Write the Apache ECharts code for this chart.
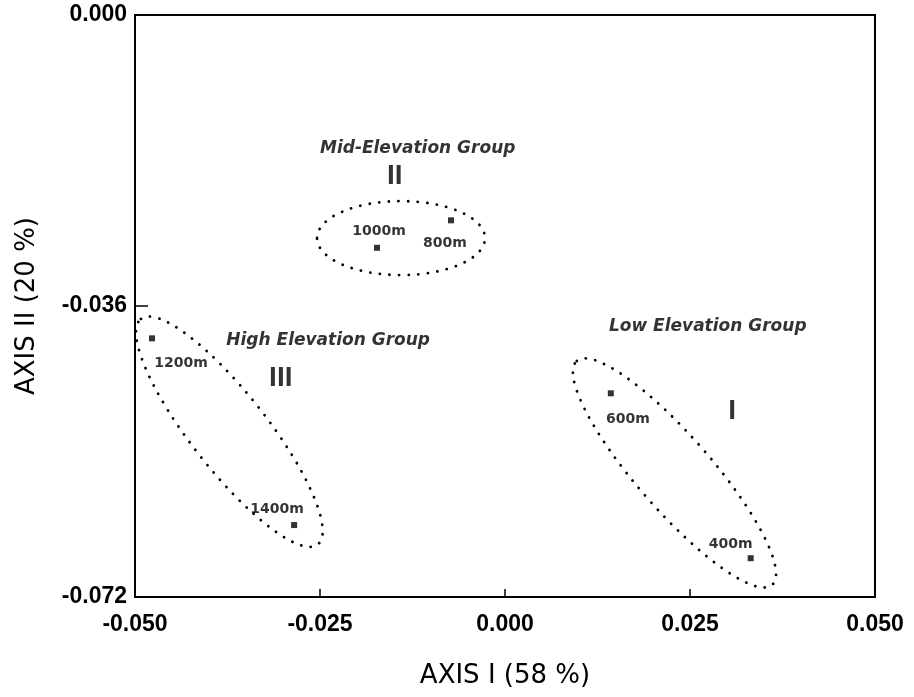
<!DOCTYPE html>
<html>
<head>
<meta charset="utf-8">
<script src="https://cdn.jsdelivr.net/npm/echarts@6/dist/echarts.min.js"></script>
<style>
  html, body { margin: 0; padding: 0; background: #fff; }
  #main { width: 914px; height: 697px; }
</style>
</head>
<body>
<div id="main"></div>
<script>
// sites (elevation) and their ordination scores
var sites = ["1200m", "1400m", "1000m", "800m", "600m", "400m"];
var axisI = [-0.0477, -0.0285, -0.0173, -0.0073, 0.0143, 0.0332];
var axisII = [-0.0400, -0.0631, -0.0288, -0.0254, -0.0468, -0.0672];

// group names and where they sit
var groupNames = ["High Elevation Group", "Mid-Elevation Group", "Low Elevation Group"];
var groupX = [-0.0239, -0.0118, 0.0274];
var groupY = [-0.0403, -0.0165, -0.0385];
var numerals = ["III", "II", "I"];
var numeralX = [-0.0303, -0.0149, 0.0307];
var numeralY = [-0.0449, -0.0200, -0.0490];

// ellipse major axis end points (axis I, axis II)
var ellipseStartX = [-0.0492, -0.0254, 0.0097];
var ellipseStartY = [-0.0376, -0.0276, -0.0428];
var ellipseEndX = [-0.0253, -0.0027, 0.0361];
var ellipseEndY = [-0.0655, -0.0276, -0.0705];

var xTicks = [-0.05, -0.025, 0, 0.025, 0.05];
var yTicks = [-0.072, -0.036, 0];

// layout only (pixels)
var ellipseMinor = [38, 37, 37];
var labelOffsets = [[29, 25], [-17, -16], [2, -16], [-6, 23], [17, 26], [-20, -14]];

var font = "DejaVu Sans";
var tickFont = "Liberation Sans";

var pointData = sites.map(function (s, i) {
  return {
    name: s,
    value: [axisI[i], axisII[i]],
    label: { offset: labelOffsets[i] }
  };
});
var groupData = groupNames.map(function (g, i) {
  return { name: g, value: [groupX[i], groupY[i]] };
});
var numeralData = numerals.map(function (n, i) {
  return { name: n, value: [numeralX[i], numeralY[i]] };
});
var ellipseData = ellipseStartX.map(function (x, i) {
  return [x, ellipseStartY[i], ellipseEndX[i], ellipseEndY[i], ellipseMinor[i]];
});

var myChart = echarts.init(document.getElementById("main"));
var option = {
  animation: false,
  grid: {
    left: 135,
    right: 39,
    top: 15,
    bottom: 100,
    outerBoundsMode: "none",
    containLabel: false,
    show: true,
    borderColor: "#000",
    borderWidth: 2,
    backgroundColor: "transparent"
  },
  xAxis: {
    type: "value",
    min: xTicks[0],
    max: xTicks[xTicks.length - 1],
    interval: 0.025,
    name: "AXIS I (58 %)",
    nameLocation: "middle",
    nameGap: 66,
    nameTextStyle: { fontFamily: font, fontSize: 26, color: "#000" },
    axisLine: { onZero: false, lineStyle: { color: "#000", width: 2 } },
    axisTick: { inside: true, length: 8, lineStyle: { color: "#000", width: 1.5 } },
    axisLabel: {
      margin: 16,
      color: "#000",
      fontFamily: tickFont,
      fontSize: 23,
      fontWeight: "bold",
      formatter: function (v) { return v.toFixed(3); }
    },
    splitLine: { show: false }
  },
  yAxis: {
    type: "value",
    min: yTicks[0],
    max: yTicks[yTicks.length - 1],
    interval: 0.036,
    name: "AXIS II (20 %)",
    nameLocation: "middle",
    nameGap: 95,
    nameRotate: 90,
    nameTextStyle: { fontFamily: font, fontSize: 26, color: "#000" },
    axisLine: { onZero: false, lineStyle: { color: "#000", width: 2 } },
    axisTick: { inside: true, length: 13, lineStyle: { color: "#000", width: 1.5 } },
    axisLabel: {
      margin: 8,
      color: "#000",
      fontFamily: tickFont,
      fontSize: 23,
      fontWeight: "bold",
      formatter: function (v) { return v.toFixed(3); }
    },
    splitLine: { show: false }
  },
  series: [
    {
      // dotted group ellipses
      type: "custom",
      silent: true,
      data: ellipseData,
      renderItem: function (params, api) {
        var p1 = api.coord([api.value(0), api.value(1)]);
        var p2 = api.coord([api.value(2), api.value(3)]);
        var dx = p2[0] - p1[0];
        var dy = p2[1] - p1[1];
        return {
          type: "ellipse",
          x: (p1[0] + p2[0]) / 2,
          y: (p1[1] + p2[1]) / 2,
          rotation: -Math.atan2(dy, dx),
          shape: { cx: 0, cy: 0, rx: Math.sqrt(dx * dx + dy * dy) / 2, ry: api.value(4) },
          style: {
            fill: "none",
            stroke: "#000",
            lineWidth: 2.8,
            lineDash: [0.1, 9.5],
            lineCap: "round"
          }
        };
      }
    },
    {
      type: "scatter",
      symbol: "rect",
      symbolSize: 6,
      itemStyle: { color: "#000" },
      data: pointData,
      label: {
        show: true,
        position: "inside",
        formatter: "{b}",
        color: "#000",
        fontFamily: font,
        fontSize: 14,
        fontWeight: "bold"
      }
    },
    {
      type: "scatter",
      symbolSize: 0,
      data: groupData,
      label: {
        show: true,
        position: "inside",
        formatter: "{b}",
        color: "#000",
        fontFamily: font,
        fontSize: 17,
        fontWeight: "bold",
        fontStyle: "italic"
      }
    },
    {
      type: "scatter",
      symbolSize: 0,
      data: numeralData,
      label: {
        show: true,
        position: "inside",
        formatter: "{b}",
        color: "#000",
        fontFamily: tickFont,
        fontSize: 28,
        fontWeight: "bold"
      }
    }
  ]
};
myChart.setOption(option);
</script>
</body>
</html>
